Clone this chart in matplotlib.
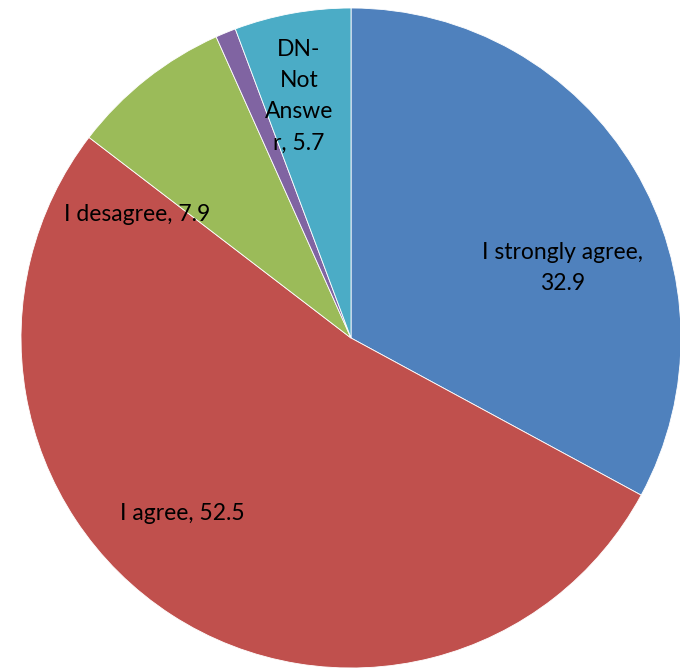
import matplotlib
matplotlib.use("Agg")
import matplotlib.pyplot as plt

categories = ["I strongly agree", "I agree", "I desagree", "I strongly desagree", "DN-Not Answer"]
values = [32.9, 52.5, 7.9, 1.0, 5.7]
colors = ["#4F81BD", "#C0504D", "#9BBB59", "#8064A2", "#4BACC6"]

# label text as printed in the chart (purple slice has no label)
label_texts = ["I strongly agree,\n32.9", "I agree, 52.5", "I desagree, 7.9", None, "DN-\nNot\nAnswe\nr, 5.7"]
label_pos = [(0.64, 0.212), (-0.51, -0.533), (-0.648, 0.373), None, (-0.158, 0.733)]

plt.rcParams["font.family"] = ["Lato", "DejaVu Sans"]

fig = plt.figure(figsize=(6.8, 6.72), dpi=100)
ax = fig.add_axes([21 / 680, 4 / 672, 660 / 680, 660 / 672])
ax.pie(values, colors=colors, startangle=90, counterclock=False,
       radius=1.0, wedgeprops=dict(edgecolor="white", linewidth=0.6))
for txt, pos in zip(label_texts, label_pos):
    if txt is None:
        continue
    ax.text(pos[0], pos[1], txt, ha="center", va="center", fontsize=16.5,
            color="black", linespacing=1.6)
ax.set_xlim(-1, 1)
ax.set_ylim(-1, 1)
ax.set_aspect("equal")
ax.axis("off")

fig.savefig("out.png", dpi=100)
